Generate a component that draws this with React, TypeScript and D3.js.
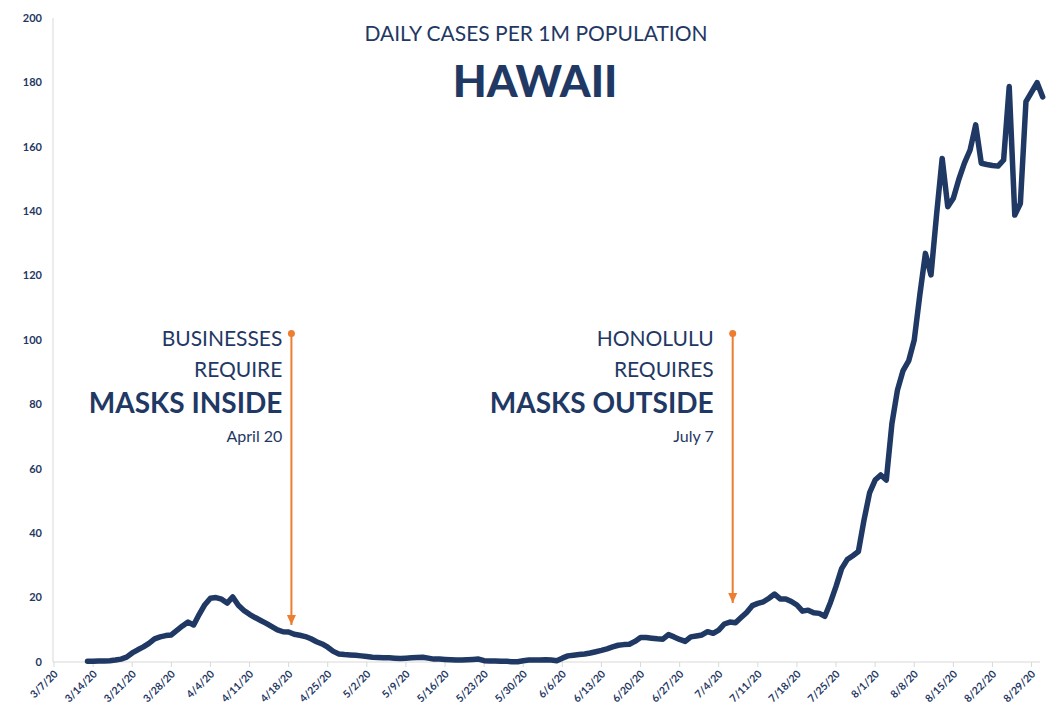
import React from "react";
import * as d3 from "d3";

// ---- data ----
const startDate = "2020-03-13"; // first daily value
const dailyCases: number[] = [
  0.2, 0.2, 0.3, 0.3, 0.4, 0.6, 0.9, 1.5, 2.8, 3.8, // 3/13-3/22
  4.7, 5.8, 7.2, 7.8, 8.2, 8.4, 9.8, 11.2, 12.4, 11.5, // 3/23-4/1
  14.8, 17.8, 19.8, 20.0, 19.5, 18.3, 20.2, 17.6, 16.0, 14.8, // 4/2-4/11
  13.8, 12.9, 12.0, 11.0, 10.0, 9.4, 9.3, 8.6, 8.3, 7.9, // 4/12-4/21
  7.2, 6.3, 5.6, 4.6, 3.3, 2.5, 2.3, 2.2, 2.1, 1.9, // 4/22-5/1
  1.7, 1.5, 1.4, 1.3, 1.3, 1.2, 1.1, 1.2, 1.3, 1.4, // 5/2-5/11
  1.5, 1.2, 0.9, 0.9, 0.8, 0.7, 0.6, 0.6, 0.7, 0.8, // 5/12-5/21
  0.9, 0.4, 0.3, 0.3, 0.2, 0.2, 0.1, 0.1, 0.4, 0.6, // 5/22-5/31
  0.6, 0.6, 0.7, 0.6, 0.4, 1.2, 1.9, 2.1, 2.3, 2.5, // 6/1-6/10
  2.8, 3.2, 3.6, 4.1, 4.7, 5.2, 5.4, 5.5, 6.4, 7.6, // 6/11-6/20
  7.6, 7.4, 7.2, 7.1, 8.5, 7.8, 7.0, 6.4, 7.8, 8.1, // 6/21-6/30
  8.4, 9.4, 8.9, 9.9, 11.8, 12.4, 12.2, 13.8, 15.4, 17.5, // 7/1-7/10
  18.2, 18.7, 19.8, 21.1, 19.6, 19.6, 18.8, 17.7, 15.8, 16.1, // 7/11-7/20
  15.3, 15.1, 14.2, 18.5, 23.5, 29.0, 31.8, 33.0, 34.3, 44.0, // 7/21-7/30
  52.5, 56.5, 58.1, 56.5, 74.0, 84.5, 90.5, 93.5, 100.0, 114.0, // 7/31-8/9
  126.9, 120.2, 139.0, 156.4, 141.4, 144.0, 150.0, 155.0, 159.0, 166.8, // 8/10-8/19
  154.9, 154.5, 154.2, 154.0, 155.9, 178.7, 138.8, 142.4, 174.0, 177.0, // 8/20-8/29
  179.9, 175.5, // 8/30-8/31
];
const tickLabels: string[] = [
  "3/7/20", "3/14/20", "3/21/20", "3/28/20", "4/4/20", "4/11/20", "4/18/20",
  "4/25/20", "5/2/20", "5/9/20", "5/16/20", "5/23/20", "5/30/20", "6/6/20",
  "6/13/20", "6/20/20", "6/27/20", "7/4/20", "7/11/20", "7/18/20", "7/25/20",
  "8/1/20", "8/8/20", "8/15/20", "8/22/20", "8/29/20",
];
const yTicks: number[] = [0, 20, 40, 60, 80, 100, 120, 140, 160, 180, 200];

const events = [
  { date: "2020-04-18T12:00", lines: ["BUSINESSES", "REQUIRE"], big: "MASKS INSIDE", small: "April 20", top: 102, end: 11.5, gap: 9 },
  { date: "2020-07-06T12:00", lines: ["HONOLULU", "REQUIRES"], big: "MASKS OUTSIDE", small: "July 7", top: 102, end: 18.3, gap: 19 },
];

// ---- layout ----
const W = 1055;
const H = 713;
const NAVY = "#1f3864";
const ORANGE = "#ed7d31";
const FONT = "Lato, 'Open Sans', sans-serif";

const parse = d3.timeParse("%Y-%m-%d");
const parseT = d3.timeParse("%Y-%m-%dT%H:%M");
const tickDates = tickLabels.map((s) => d3.timeParse("%m/%d/%y")(s) as Date);
const start = parse(startDate) as Date;
const points = dailyCases.map((v, i) => ({ date: d3.timeDay.offset(start, i), value: v }));

const x = d3
  .scaleTime()
  .domain([tickDates[0], d3.timeDay.offset(tickDates[0], 177)])
  .range([54, 54 + 177 * 5.586]);
const y = d3.scaleLinear().domain([0, 200]).range([662, 18]);

export default function App() {
  const line = d3
    .line<{ date: Date; value: number }>()
    .x((d) => x(d.date))
    .y((d) => y(d.value));

  return (
    <svg
      width={W}
      height={H}
      style={{ position: "absolute", left: 0, top: 0, background: "#fff" }}
      fontFamily={FONT}
    >
      <defs>
        <marker id="arrow" viewBox="0 0 10 10" refX="10" refY="5" markerWidth="10" markerHeight="10" markerUnits="userSpaceOnUse" orient="auto">
          <path d="M0,0.5 L10,5 L0,9.5 Z" fill={ORANGE} />
        </marker>
      </defs>
      {/* axes */}
      <line x1={53} x2={53} y1={18} y2={662} stroke="#d9d9d9" strokeWidth={1} />
      <line x1={53} x2={1040} y1={662} y2={662} stroke="#d9d9d9" strokeWidth={1} />
      {yTicks.map((t) => (
        <text key={t} x={42} y={y(t)} dy="0.35em" textAnchor="end" fontSize={11} fontWeight={700} fill={NAVY}>
          {t}
        </text>
      ))}
      {tickDates.map((d, i) => (
        <g key={i}>
          <line x1={x(d)} x2={x(d)} y1={662} y2={667} stroke="#d9d9d9" />
          <text
            transform={`translate(${x(d) + 2},${672}) rotate(-45)`}
            textAnchor="end"
            dy="0.35em"
            fontSize={10.5}
            fontWeight={700}
            fill={NAVY}
          >
            {tickLabels[i]}
          </text>
        </g>
      ))}
      {/* titles */}
      <text x={536} y={41} textAnchor="middle" fontSize={21} fill={NAVY}>
        DAILY CASES PER 1M POPULATION
      </text>
      <text x={535} y={97} textAnchor="middle" fontSize={44} fontWeight={900} fill={NAVY}>
        HAWAII
      </text>
      {/* data line */}
      <path d={line(points) || ""} fill="none" stroke={NAVY} strokeWidth={5.5} strokeLinejoin="round" strokeLinecap="round" />
      {/* annotations */}
      {events.map((e, i) => {
        const ex = x(parseT(e.date) as Date);
        const right = ex - e.gap;
        return (
          <g key={i}>
            <line x1={ex} x2={ex} y1={y(e.top)} y2={y(e.end)} stroke={ORANGE} strokeWidth={2} markerEnd="url(#arrow)" />
            <circle cx={ex} cy={y(e.top)} r={3.5} fill={ORANGE} />
            <text x={right} y={346} textAnchor="end" fontSize={21} fill={NAVY}>{e.lines[0]}</text>
            <text x={right} y={377} textAnchor="end" fontSize={21} fill={NAVY}>{e.lines[1]}</text>
            <text x={right} y={413} textAnchor="end" fontSize={28} fontWeight={700} fill={NAVY}>{e.big}</text>
            <text x={right} y={442} textAnchor="end" fontSize={16} fill={NAVY}>{e.small}</text>
          </g>
        );
      })}
    </svg>
  );
}
